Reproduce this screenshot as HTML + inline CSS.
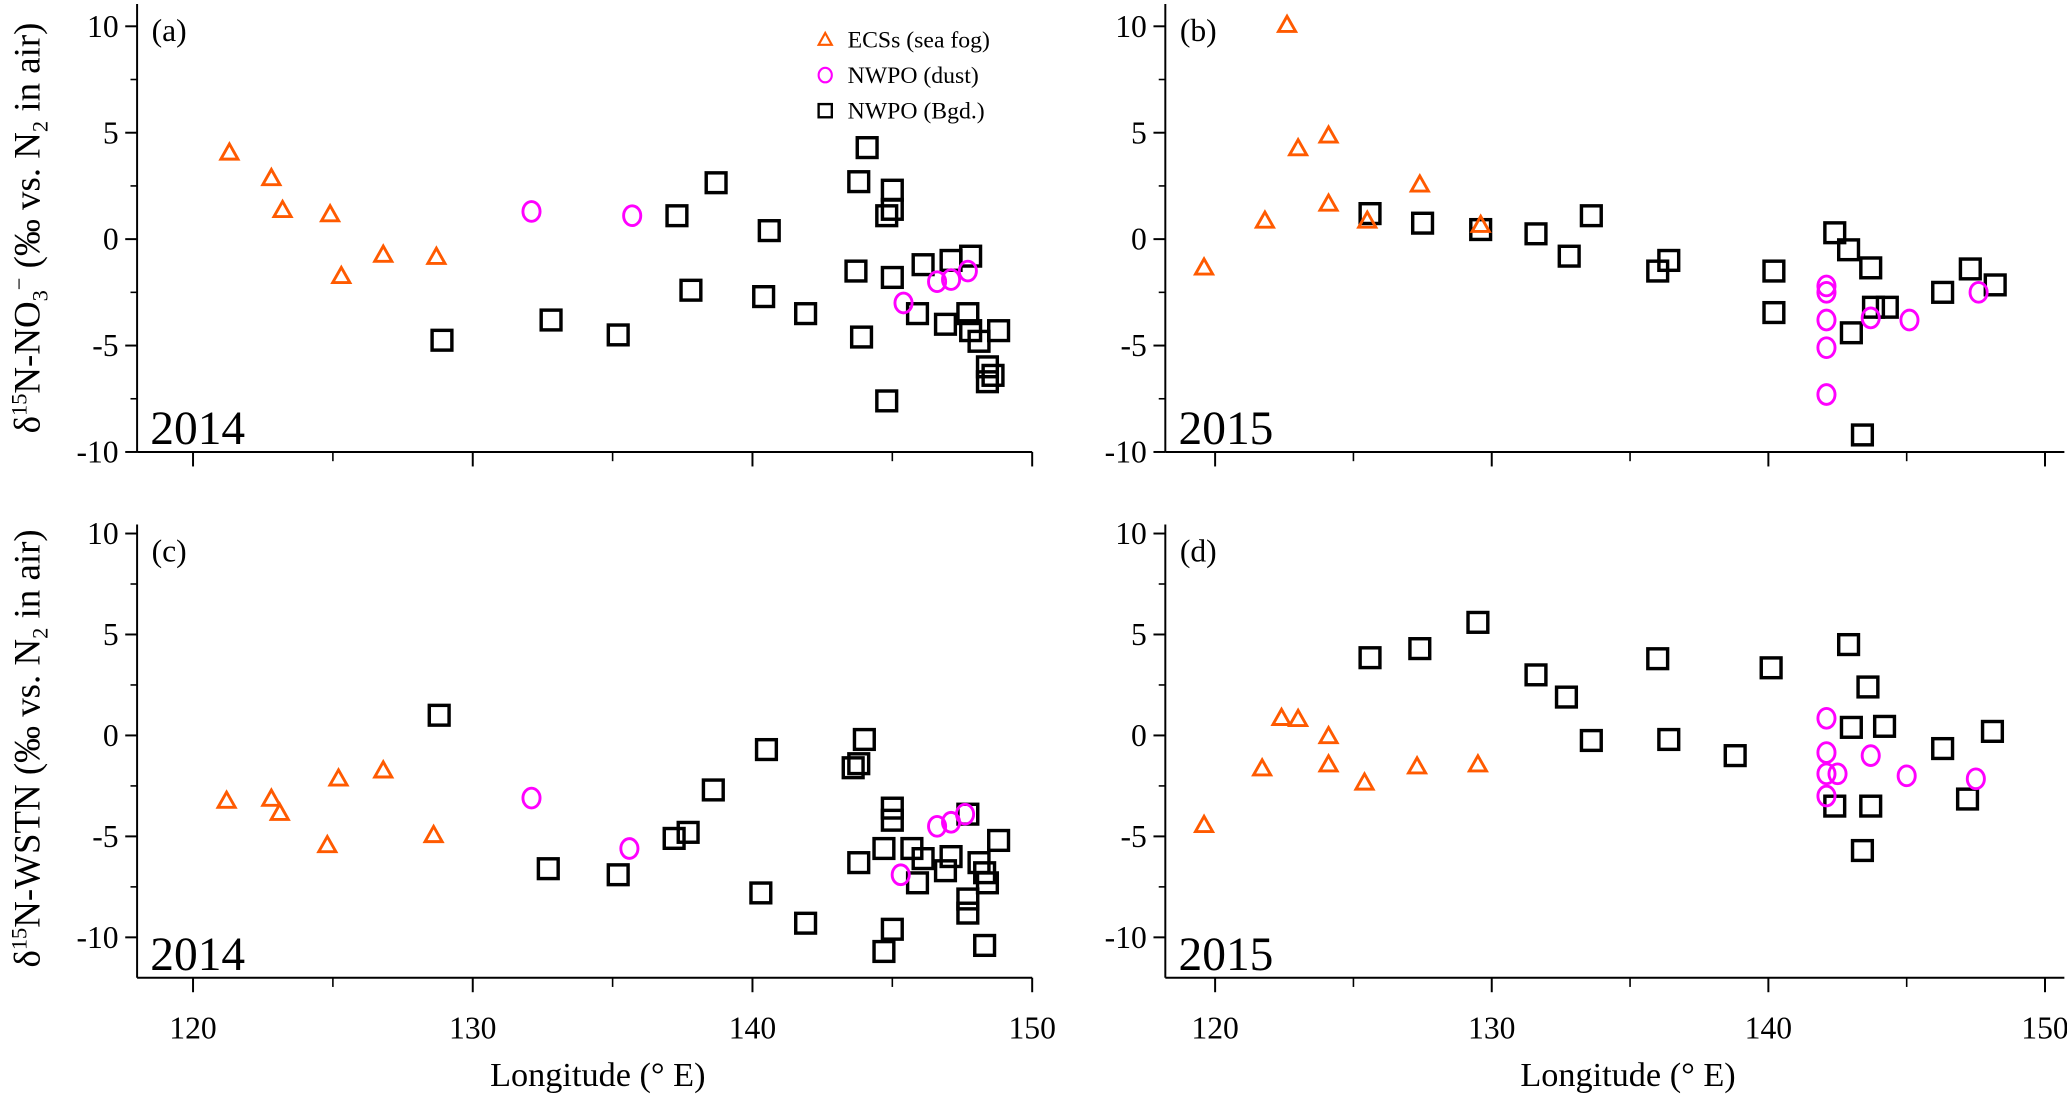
<!DOCTYPE html>
<html><head><meta charset="utf-8"><style>
html,body{margin:0;padding:0;background:#fff;}
svg{display:block;font-family:"Liberation Serif",serif;}
svg text{font-family:"Liberation Serif",serif;}
</style></head><body>
<svg id="fig" width="2067" height="1095" viewBox="0 0 1568 831" preserveAspectRatio="none" xmlns="http://www.w3.org/2000/svg" font-family="Liberation Serif, serif"></svg>
<script>
// Panel (a) 2014 NO3
const aTriX=[121.3,122.8,123.2,124.9,125.3,126.8,128.7];
const aTriY=[4.1,2.9,1.4,1.2,-1.7,-0.7,-0.8];
const aCirX=[132.1,135.7,145.4,146.6,147.1,147.7];
const aCirY=[1.3,1.1,-3.0,-2.0,-1.9,-1.5];
const aSqX=[128.9,132.8,135.2,137.3,137.8,138.7,140.4,140.6,141.9,143.7,143.8,143.9,144.1,144.8,144.8,145.0,145.0,145.0,145.9,146.1,146.9,147.1,147.7,147.8,147.8,148.1,148.4,148.4,148.6,148.8];
const aSqY=[-4.75,-3.8,-4.5,1.1,-2.4,2.65,-2.7,0.4,-3.5,-1.5,2.7,-4.6,4.3,1.1,-7.6,2.3,1.4,-1.8,-3.5,-1.2,-4.0,-1.0,-3.5,-0.8,-4.3,-4.8,-6.7,-6.0,-6.4,-4.3];
// Panel (b) 2015 NO3
const bTriX=[119.6,121.8,122.6,123.0,124.1,124.1,125.5,127.4,129.6];
const bTriY=[-1.3,0.9,10.1,4.3,4.9,1.7,0.9,2.6,0.7];
const bCirX=[142.1,142.1,142.1,142.1,142.1,143.7,145.1,147.6];
const bCirY=[-2.5,-2.2,-3.8,-5.1,-7.3,-3.7,-3.8,-2.5];
const bSqX=[125.6,127.5,129.6,131.6,132.8,133.6,136.0,136.4,140.2,140.2,142.4,142.9,143.0,143.7,143.8,144.3,143.4,146.3,147.3,148.2];
const bSqY=[1.2,0.75,0.45,0.25,-0.8,1.1,-1.5,-1.0,-3.45,-1.5,0.3,-0.5,-4.4,-1.35,-3.2,-3.2,-9.2,-2.5,-1.4,-2.15];
// Panel (c) 2014 WSTN
const cTriX=[121.2,122.8,123.1,124.8,125.2,126.8,128.6];
const cTriY=[-3.2,-3.1,-3.8,-5.4,-2.1,-1.7,-4.9];
const cCirX=[132.1,135.6,145.3,146.6,147.1,147.6];
const cCirY=[-3.1,-5.6,-6.9,-4.5,-4.3,-3.9];
const cSqX=[128.8,132.7,135.2,137.2,137.7,138.6,140.3,140.5,141.9,143.6,143.8,143.8,144.0,144.7,144.7,145.0,145.0,145.0,145.7,145.9,146.1,146.9,147.1,147.7,147.7,147.7,148.1,148.3,148.4,148.3,148.8];
const cSqY=[1.0,-6.6,-6.9,-5.1,-4.8,-2.7,-7.8,-0.7,-9.3,-1.6,-1.4,-6.3,-0.2,-5.6,-10.7,-3.6,-4.2,-9.6,-5.6,-7.3,-6.1,-6.7,-6.0,-3.9,-8.1,-8.8,-6.3,-6.8,-7.3,-10.4,-5.2];
// Panel (d) 2015 WSTN
const dTriX=[119.6,121.7,122.4,123.0,124.1,124.1,125.4,127.3,129.5];
const dTriY=[-4.4,-1.6,0.9,0.85,0,-1.4,-2.3,-1.5,-1.4];
const dCirX=[142.1,142.1,142.1,142.1,142.5,143.7,145.0,147.5];
const dCirY=[0.85,-0.85,-1.9,-3.0,-1.9,-1.0,-2.0,-2.15];
const dSqX=[125.6,127.4,129.5,131.6,132.7,133.6,136.0,136.4,138.8,140.1,142.4,142.9,143.0,143.6,143.7,143.4,144.2,146.3,147.2,148.1];
const dSqY=[3.85,4.3,5.6,3.0,1.9,-0.25,3.8,-0.2,-1.0,3.35,-3.5,4.5,0.4,2.4,-3.5,-5.7,0.45,-0.65,-3.15,0.2];
const xTicks=[120,130,140,150];
const yTicks=[10,5,0,-5,-10];

const NS="http://www.w3.org/2000/svg";
const svg=document.getElementById('fig');
function mk(tag,attrs,parent){const e=document.createElementNS(NS,tag);for(const k in attrs)e.setAttribute(k,attrs[k]);(parent||svg).appendChild(e);return e;}

const panels=[
 {id:'a',L:104,R:783,xmin:118,xmax:150,T:3,B:343,ymin:-10,ymax:11.05,tri:[aTriX,aTriY],cir:[aCirX,aCirY],sq:[aSqX,aSqY],year:'2014',xl:false},
 {id:'b',L:884,R:1566,xmin:118.2,xmax:150.7,T:3,B:343,ymin:-10,ymax:11.05,tri:[bTriX,bTriY],cir:[bCirX,bCirY],sq:[bSqX,bSqY],year:'2015',xl:false},
 {id:'c',L:104,R:783,xmin:118,xmax:150,T:398,B:742,ymin:-12,ymax:10.45,tri:[cTriX,cTriY],cir:[cCirX,cCirY],sq:[cSqX,cSqY],year:'2014',xl:true},
 {id:'d',L:884,R:1566,xmin:118.2,xmax:150.7,T:398,B:742,ymin:-12,ymax:10.45,tri:[dTriX,dTriY],cir:[dCirX,dCirY],sq:[dSqX,dSqY],year:'2015',xl:true}
];

panels.forEach(p=>{
 const g=mk('g',{});
 
 
 const sx=v=>p.L+(v-p.xmin)/(p.xmax-p.xmin)*(p.R-p.L);
 const sy=v=>p.B-(v-p.ymin)/(p.ymax-p.ymin)*(p.B-p.T);
 const ax=mk('line',{x1:p.L,y1:p.T,x2:p.L,y2:p.B,stroke:'#000','stroke-width':1.5},g);
 
 
 const bx=mk('line',{x1:p.L,y1:p.B,x2:p.R,y2:p.B,stroke:'#000','stroke-width':1.5},g);
 
 
 yTicks.forEach(t=>{
  const y=sy(t);
  mk('line',{x1:p.L-9,y1:y,x2:p.L,y2:y,stroke:'#000','stroke-width':1.5},g);
  if(t>-10){const m=sy(t-2.5);mk('line',{x1:p.L-5,y1:m,x2:p.L,y2:m,stroke:'#000','stroke-width':1.2},g);}
  const tx=mk('text',{x:p.L-14,y:y+8,'text-anchor':'end','font-size':24,'font-family':'Liberation Serif, serif'},g);
  tx.textContent=t;
  
  
 });
 xTicks.forEach(t=>{
  const x=sx(t);
  mk('line',{x1:x,y1:p.B,x2:x,y2:p.B+11,stroke:'#000','stroke-width':1.5},g);
  const m=sx(t+5); if(t<150&&m<p.R) mk('line',{x1:m,y1:p.B,x2:m,y2:p.B+7,stroke:'#000','stroke-width':1.2},g);
  if(p.xl){const tx=mk('text',{x:x,y:p.B+46,'text-anchor':'middle','font-size':24,'font-family':'Liberation Serif, serif'},g);
   tx.textContent=t;
   
   }
 });
 const lab=mk('text',{x:p.L+11,y:p.T+28,'font-size':24,'font-family':'Liberation Serif, serif'},g);
 lab.textContent='('+p.id+')';
 
 
 const yr=mk('text',{x:p.L+10,y:p.B-6,'font-size':36,'font-family':'Liberation Serif, serif'},g);
 yr.textContent=p.year;
 
 
 if(p.xl){const xt=mk('text',{x:(p.L+p.R)/2+10,y:p.B+82,'text-anchor':'middle','font-size':26,'font-family':'Liberation Serif, serif'},g);
  xt.textContent='Longitude (\u00B0 E)';
  
  }
 p.sq[0].forEach((v,i)=>{const x=sx(v),y=sy(p.sq[1][i]);
  const r=mk('rect',{x:x-7.5,y:y-7.5,width:15,height:15,fill:'none',stroke:'#000','stroke-width':2.6},g);
  
  });
 p.tri[0].forEach((v,i)=>{const x=sx(v),y=sy(p.tri[1][i]);
  const t=mk('polygon',{points:`${x},${y-6} ${x-6.5},${y+5.5} ${x+6.5},${y+5.5}`,fill:'none',stroke:'#ff5a00','stroke-width':2.2},g);
  
  });
 p.cir[0].forEach((v,i)=>{const x=sx(v),y=sy(p.cir[1][i]);
  const c=mk('ellipse',{cx:x,cy:y,rx:6.5,ry:7.5,fill:'none',stroke:'#ff00ff','stroke-width':2.2},g);
  
  });
});

function ytitle(cy,html,name){
 const t=mk('text',{transform:`translate(30,${cy}) rotate(-90)`,'text-anchor':'middle','font-size':28,'font-family':'Liberation Serif, serif'});
 t.innerHTML=html;
 
 
}
ytitle(173,'\u03B4<tspan dy="-10" font-size="17">15</tspan><tspan dy="10">N-NO</tspan><tspan dy="6" font-size="17">3</tspan><tspan dy="-16" font-size="17">\u2212</tspan><tspan dy="10"> (\u2030 vs. N</tspan><tspan dy="6" font-size="17">2</tspan><tspan dy="-6"> in air)</tspan>','y-axis-title-no3');
ytitle(568,'\u03B4<tspan dy="-10" font-size="17">15</tspan><tspan dy="10">N-WSTN (\u2030 vs. N</tspan><tspan dy="6" font-size="17">2</tspan><tspan dy="-6"> in air)</tspan>','y-axis-title-wstn');

const lg=mk('g',{});


mk('polygon',{points:'626,25 621,34 631,34',fill:'none',stroke:'#ff5a00','stroke-width':1.6},lg);
mk('ellipse',{cx:626,cy:57,rx:5,ry:5.5,fill:'none',stroke:'#ff00ff','stroke-width':1.6},lg);
mk('rect',{x:621,y:79,width:10,height:10,fill:'none',stroke:'#000','stroke-width':1.8},lg);
[['ECSs (sea fog)',36],['NWPO (dust)',63],['NWPO (Bgd.)',90]].forEach(([s,y])=>{
 const t=mk('text',{x:643,y:y,'font-size':18,'font-family':'Liberation Serif, serif'},lg);
 t.textContent=s;
 
 
});
</script>
</body></html>
